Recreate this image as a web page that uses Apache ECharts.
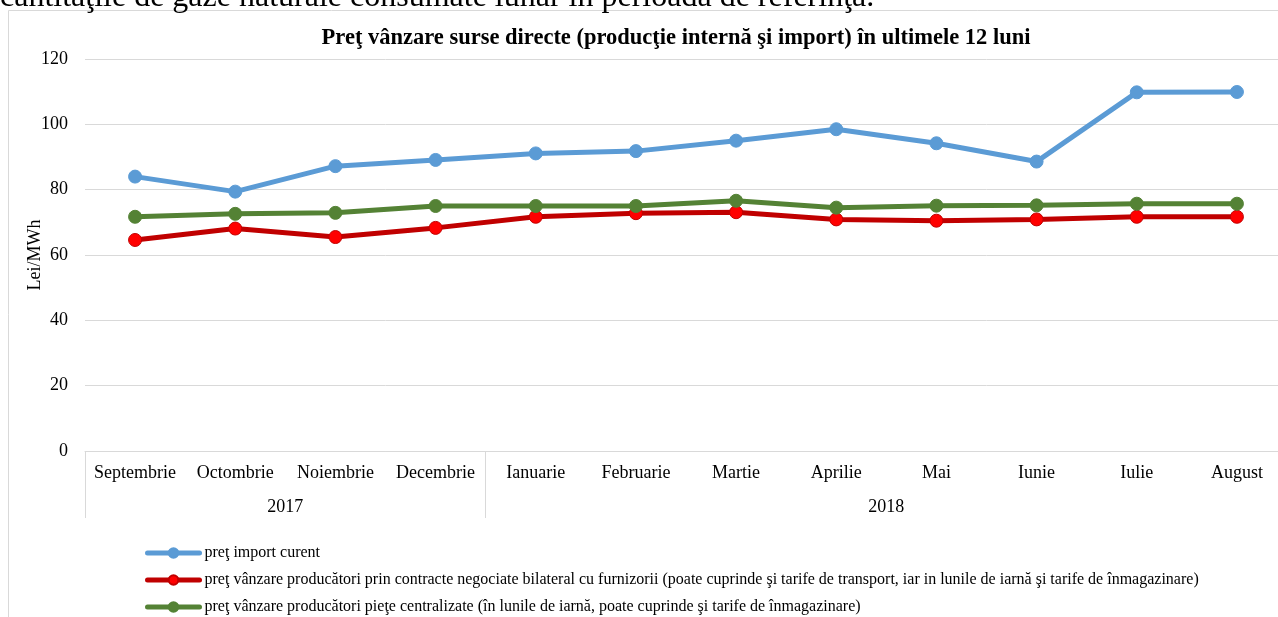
<!DOCTYPE html>
<html>
<head>
<meta charset="utf-8">
<script src="https://cdn.jsdelivr.net/npm/echarts@6/dist/echarts.min.js"></script>
<style>
html,body{margin:0;padding:0;background:#fff;overflow:hidden;}
#chart{width:1300px;height:617px;}
</style>
</head>
<body>
<div id="chart"></div>
<script>
const months = ['Septembrie','Octombrie','Noiembrie','Decembrie','Ianuarie','Februarie','Martie','Aprilie','Mai','Iunie','Iulie','August'];
const years = ['2017','2018'];
const yearMonthCounts = [4, 8];
const seriesNames = [
  'preţ import curent',
  'preţ vânzare producători prin contracte negociate bilateral cu furnizorii (poate cuprinde şi tarife de transport, iar in lunile de iarnă şi tarife de înmagazinare)',
  'preţ vânzare producători pieţe centralizate (în lunile de iarnă, poate cuprinde şi tarife de înmagazinare)'
];
const importPrice = [84.0, 79.4, 87.2, 89.1, 91.1, 91.8, 95.0, 98.5, 94.2, 88.6, 109.8, 109.9];
const bilateralPrice = [64.6, 68.1, 65.5, 68.3, 71.7, 72.8, 73.1, 70.9, 70.5, 70.9, 71.7, 71.7];
const centralizedPrice = [71.7, 72.6, 72.9, 75.0, 75.0, 75.0, 76.6, 74.5, 75.1, 75.2, 75.7, 75.7];
const yTicks = {min: 0, max: 120, interval: 20};
const titleText = 'Preţ vânzare surse directe (producţie internă şi import) în ultimele 12 luni';
const topText = 'cantitaţile de gaze naturale consumate lunar în perioada de referinţă.';
const yName = 'Lei/MWh';

// group boundaries and centres (in category-index units)
const boundaries = [-0.5];
const centers = [];
let acc = -0.5;
yearMonthCounts.forEach(c => { centers.push(acc + c / 2); acc += c; boundaries.push(acc); });

const FONT = '"Liberation Serif", "Times New Roman", serif';
const grey = '#d9d9d9';

const chart = echarts.init(document.getElementById('chart'), null, {renderer: 'canvas'});

function lineSeries(name, data, lineColor, fill, border) {
  return {
    name, type: 'line', data, xAxisIndex: 0, yAxisIndex: 0,
    symbol: 'circle', symbolSize: 13,
    lineStyle: {color: lineColor, width: 5},
    itemStyle: {color: fill, borderColor: border, borderWidth: 1},
    emphasis: {disabled: true},
    animation: false, z: 3
  };
}

chart.setOption({
  animation: false,
  textStyle: {fontFamily: FONT},
  title: {
    text: titleText,
    left: 676, top: 27, textAlign: 'center', padding: 0,
    textStyle: {fontFamily: FONT, fontSize: 22.5, fontWeight: 'bold', color: '#000'}
  },
  graphic: [
    {type: 'rect', shape: {x: 8.5, y: 10.5, width: 1400, height: 700},
     style: {fill: 'none', stroke: grey, lineWidth: 1}, silent: true, z: -1},
    {type: 'text', x: 0, y: 14, style: {text: topText, font: '32px ' + FONT, fill: '#000',
      textAlign: 'left', textVerticalAlign: 'bottom'}, silent: true}
  ],
  legend: {
    orient: 'vertical', left: 145, top: 545, padding: 0, height: 120,
    itemWidth: 52, itemHeight: 12, itemGap: 11,
    lineStyle: {width: 5, cap: 'round'},
    textStyle: {fontFamily: FONT, fontSize: 16, color: '#000'},
    data: seriesNames
  },
  grid: {left: 85, right: 13, top: 59, bottom: 166, containLabel: false},
  xAxis: [
    {
      type: 'category', data: months, boundaryGap: true, position: 'bottom',
      axisLine: {show: true, lineStyle: {color: grey, width: 1}},
      axisTick: {show: false},
      axisLabel: {margin: 13, fontSize: 18, color: '#000', fontFamily: FONT, interval: 0}
    },
    {
      type: 'value', min: -0.5, max: months.length - 0.5, position: 'bottom',
      axisLine: {show: false},
      splitLine: {show: false},
      axisTick: {show: true, inside: false, length: 67, customValues: boundaries,
                 lineStyle: {color: grey, width: 1}},
      axisLabel: {show: true, margin: 47, fontSize: 18, color: '#000', fontFamily: FONT,
                  customValues: centers,
                  formatter: v => { const i = centers.findIndex(c => Math.abs(c - v) < 1e-6); return i >= 0 ? years[i] : ''; }}
    }
  ],
  yAxis: {
    type: 'value', min: yTicks.min, max: yTicks.max, interval: yTicks.interval,
    name: yName, nameLocation: 'middle', nameGap: 41, nameRotate: 90, nameMoveOverlap: false,
    nameTextStyle: {fontFamily: FONT, fontSize: 18, color: '#000'},
    axisLine: {show: false}, axisTick: {show: false},
    axisLabel: {margin: 17, fontSize: 18, color: '#000', fontFamily: FONT},
    splitLine: {lineStyle: {color: grey, width: 1}}
  },
  series: [
    lineSeries(seriesNames[0], importPrice, '#5B9BD5', '#5B9BD5', '#5B9BD5'),
    lineSeries(seriesNames[1], bilateralPrice, '#C00000', '#FF0000', '#C00000'),
    lineSeries(seriesNames[2], centralizedPrice, '#548235', '#548235', '#548235')
  ]
});
</script>
</body>
</html>
